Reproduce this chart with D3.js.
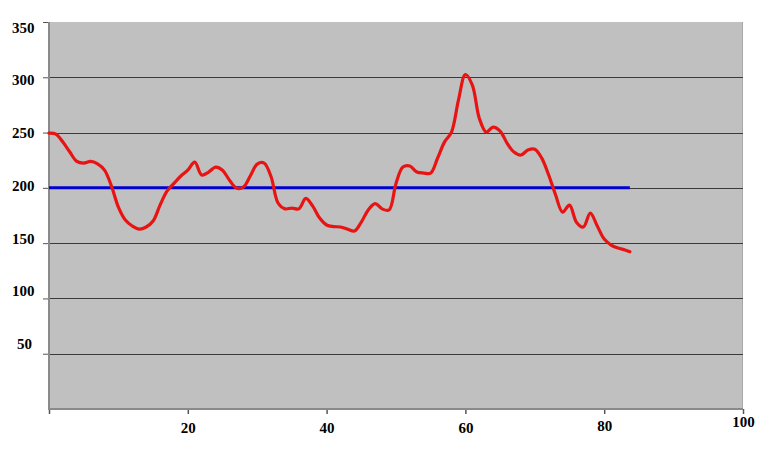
<!DOCTYPE html>
<html><head><meta charset="utf-8">
<script src="https://cdn.jsdelivr.net/npm/d3@7"></script>
<style>body{margin:0;background:#fff}svg{display:block}</style>
</head><body>
<script>
const xValues = [0,1,2,3,4,5,6,7,8,9,10,11,12,13,14,15,16,17,18,19,20,21,22,23,24,25,26,27,28,29,30,31,32,33,34,35,36,37,38,39,40,41,42,43,44,45,46,47,48,49,50,51,52,53,54,55,56,57,58,59,60,61,62,63,64,65,66,67,68,69,70,71,72,73,74,75,76,77,78,79,80,81,82,83,83.7];
const redValues = [249.5,248.6,241.4,232.4,224,222.4,223.9,221.7,216,201.6,182.6,170.9,165.5,162.7,164.6,170,184.4,197,204,210.7,216,223.3,211.6,214.3,218.8,216,207,199.8,200.7,210.7,221.5,222.4,210,186.3,181,181.7,181,190.5,183.5,172.7,166.4,165,164.6,162.7,160.9,169,180,185.8,181,180,204,218.8,219.7,214.3,213.4,213.4,227,241.6,250.5,279.4,302.5,293,263,250.5,255,251.4,240.5,232.4,229.7,234.2,235,226.9,211.6,193.5,178.1,184.4,169,164.6,177.2,165.5,153.7,148.3,145.6,143.8,142.2];
const blueX = [0, 83.7];
const blueValues = [200, 200];
const yTicks = [50,100,150,200,250,300,350];
const xTicks = [0,20,40,60,80,100];
const xTickLabels = ["","20","40","60","80","100"];

const W = 767, H = 456;
const L = 49, R = 743, T = 22, B = 409;
const svg = d3.select("body").append("svg").attr("width", W).attr("height", H);
const x = d3.scaleLinear().domain([0,100]).range([L,R]);
const y = d3.scaleLinear().domain([0,350]).range([B,T]);
// tick labels in the original sit on a slightly tighter spacing than the gridlines
const yLab = d3.scaleLinear().domain([50,350]).range([344,27.5]);
const font = "'Liberation Serif', 'Times New Roman', serif";

svg.append("rect").attr("x",L).attr("y",T).attr("width",R-L).attr("height",B-T).attr("fill","#c0c0c0");
svg.append("line").attr("x1",R-0.5).attr("x2",R-0.5).attr("y1",T).attr("y2",B).attr("stroke","#a8a8a8").attr("stroke-width",1);

// gridlines
svg.append("g").selectAll("line").data(yTicks.filter(d=>d<350)).join("line")
  .attr("x1",L).attr("x2",R).attr("y1",d=>Math.round(y(d))+0.5).attr("y2",d=>Math.round(y(d))+0.5)
  .attr("stroke","#3a3a3a").attr("stroke-width",1);

// y axis ticks
const ya = svg.append("g").attr("transform",`translate(${L},0)`)
  .call(d3.axisLeft(y).tickValues(yTicks).tickSize(6).tickFormat(""));
ya.select(".domain").remove();
ya.selectAll(".tick line").attr("stroke","#555");
// y labels
svg.append("g").selectAll("text").data(yTicks).join("text")
  .attr("x", d => d===50 ? 32 : 34.5)
  .attr("y", d => yLab(d))
  .attr("dy","0.34em")
  .attr("text-anchor","end")
  .attr("font-family",font).attr("font-weight","bold").attr("font-size","15px").attr("fill","#000")
  .text(d=>d);

// x axis
const xa = svg.append("g").attr("transform",`translate(0,${B})`)
  .call(d3.axisBottom(x).tickValues(xTicks).tickFormat((d,i)=>xTickLabels[i]).tickSize(5).tickPadding(8));
xa.select(".domain").remove();
xa.selectAll(".tick line").attr("stroke","#555").attr("stroke-width",1.5);
xa.selectAll(".tick text").attr("font-family",font)
  .attr("font-weight","bold").attr("font-size","15px").attr("fill","#000")
  .attr("dy", d=> d===100 ? "0.3em" : d===80 ? "0.6em" : "0.75em");

// axis lines
svg.append("line").attr("x1",L).attr("x2",L).attr("y1",T).attr("y2",B+1).attr("stroke","#8a8a8a").attr("stroke-width",2);
svg.append("line").attr("x1",L).attr("x2",R).attr("y1",B).attr("y2",B).attr("stroke","#8a8a8a").attr("stroke-width",2);

// blue line
const blue = d3.line().x((d,i)=>x(blueX[i])).y(d=>y(d));
svg.append("path").datum(blueValues).attr("d",blue).attr("fill","none").attr("stroke","#0000d0").attr("stroke-width",3);

// red line
const red = d3.line().x((d,i)=>x(xValues[i])).y(d=>y(d)).curve(d3.curveCatmullRom.alpha(0.5));
svg.append("path").datum(redValues).attr("d",red).attr("fill","none").attr("stroke","#e81414")
  .attr("stroke-width",3.2).attr("stroke-linejoin","round").attr("stroke-linecap","round");
</script>
</body></html>
